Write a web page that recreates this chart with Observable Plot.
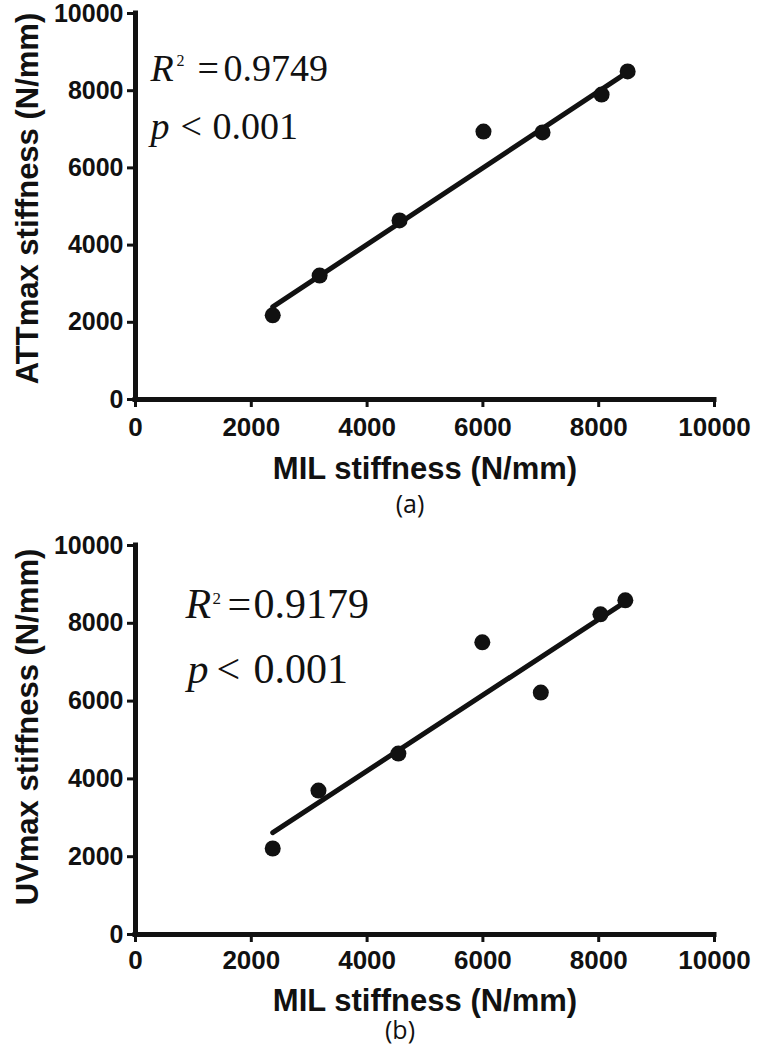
<!DOCTYPE html>
<html><head><meta charset="utf-8">
<script src="https://cdn.jsdelivr.net/npm/d3@7"></script>
<script src="https://cdn.jsdelivr.net/npm/@observablehq/plot@0.6"></script>
<style>body{margin:0;background:#fff}#chart svg{display:block}</style>
</head><body><div id="chart"></div>
<script>
// Panel (a)
const milA = [2370, 3180, 4560, 6010, 7030, 8050, 8500];
const attA = [2180, 3210, 4640, 6940, 6920, 7900, 8500];
const fitAX = [2370, 8500];
const fitAY = [2400, 8480];
// Panel (b)
const milB = [2370, 3160, 4540, 5990, 7000, 8030, 8460];
const uvB  = [2210, 3700, 4650, 7510, 6220, 8230, 8590];
const fitBX = [2370, 8460];
const fitBY = [2620, 8550];
// Ticks & labels
const xTicks = [0, 2000, 4000, 6000, 8000, 10000];
const yTicks = [0, 2000, 4000, 6000, 8000, 10000];
const xLabel = "MIL stiffness (N/mm)";
const yLabelA = "ATTmax stiffness (N/mm)";
const yLabelB = "UVmax stiffness (N/mm)";
const statsA = {r2: "0.9749", p: "0.001", caption: "(a)"};
const statsB = {r2: "0.9179", p: "0.001", caption: "(b)"};

const SANS = "'Liberation Sans', Arial, sans-serif";
const SERIF = "'Liberation Serif', 'Times New Roman', serif";
const INK = "#111";

function panel({xs, ys, fx, fy, yLabel, stats, height, marginTop, marginBottom, tickPadX, lay}) {
  const data = xs.map((x, i) => ({x, y: ys[i]}));
  const fit = fx.map((x, i) => ({x, y: fy[i]}));
  const t = (s, o) => Plot.text([s], {text: d => d, frameAnchor: "top-left", textAnchor: "start", lineAnchor: "bottom", fill: INK, fontFamily: SERIF, ...o});
  return Plot.plot({
    width: 767, height, marginLeft: 135, marginRight: 53, marginTop, marginBottom,
    x: {domain: [0, 10000]}, y: {domain: [0, 10000]},
    style: {background: "#fff", color: INK},
    marks: [
      Plot.axisX({ticks: xTicks, tickSize: 8, tickPadding: tickPadX, tickFormat: d => String(d), label: null,
        fontSize: 26, fontWeight: "bold", fontFamily: SANS, strokeWidth: 3, stroke: INK, fill: INK}),
      Plot.axisY({ticks: yTicks, tickSize: 8, tickPadding: 4, tickFormat: d => String(d), label: null,
        fontSize: 25, fontWeight: "bold", fontFamily: SANS, strokeWidth: 3, stroke: INK, fill: INK}),
      Plot.ruleX([0], {stroke: INK, strokeWidth: 5, strokeLinecap: "square"}),
      Plot.ruleY([0], {stroke: INK, strokeWidth: 5, strokeLinecap: "square"}),
      Plot.line(fit, {x: "x", y: "y", stroke: INK, strokeWidth: 5}),
      Plot.dot(data, {x: "x", y: "y", r: 8, fill: INK, stroke: null}),
      // axis titles
      Plot.text([xLabel], {text: d => d, frameAnchor: "bottom", textAnchor: "middle", lineAnchor: "bottom", dy: lay.xLabDy,
        fontSize: 31, fontWeight: "bold", fontFamily: SANS, fill: INK}),
      Plot.text([yLabel], {text: d => d, frameAnchor: "left", textAnchor: "middle", rotate: -90, lineAnchor: "bottom", dx: -98, dy: lay.yLabDy,
        fontSize: 31, fontWeight: "bold", fontFamily: SANS, fill: INK}),
      // caption
      Plot.text([stats.caption], {text: d => d, frameAnchor: "bottom", textAnchor: "middle", lineAnchor: "bottom", dx: lay.capDx, dy: lay.capDy,
        fontSize: 25, fontFamily: "'Open Sans', sans-serif", fill: INK}),
      // statistics annotation
      t("R", {dx: lay.rDx, dy: lay.rDy, fontSize: lay.fs, fontStyle: "italic"}),
      t("2", {dx: lay.supDx, dy: lay.supDy, fontSize: lay.fsSup}),
      t("=", {dx: lay.eqDx, dy: lay.rDy, fontSize: lay.fs}),
      t(stats.r2, {dx: lay.numDx, dy: lay.rDy, fontSize: lay.fs}),
      t("p", {dx: lay.pDx, dy: lay.pDy, fontSize: lay.fs, fontStyle: "italic"}),
      t("<", {dx: lay.ltDx, dy: lay.pDy, fontSize: lay.fs}),
      t(stats.p, {dx: lay.pNumDx, dy: lay.pDy, fontSize: lay.fs})
    ]
  });
}

const chart = document.getElementById("chart");
chart.append(panel({
  xs: milA, ys: attA, fx: fitAX, fy: fitAY, yLabel: yLabelA, stats: statsA,
  height: 520, marginTop: 13, marginBottom: 121, tickPadX: 10,
  lay: {xLabDy: 79, yLabDy: -8, capDx: -15, capDy: 113,
        fs: 38, fsSup: 16, rDx: 15, rDy: 67, supDx: 41, supDy: 52, eqDx: 62, numDx: 88,
        pDx: 15, pDy: 125, ltDx: 45, pNumDx: 77}
}));
chart.append(panel({
  xs: milB, ys: uvB, fx: fitBX, fy: fitBY, yLabel: yLabelB, stats: statsB,
  height: 527, marginTop: 25, marginBottom: 113, tickPadX: 8,
  lay: {xLabDy: 76, yLabDy: -13, capDx: -25, capDy: 104,
        fs: 42, fsSup: 17, rDx: 50, rDy: 72, supDx: 77, supDy: 58, eqDx: 92, numDx: 118,
        pDx: 52, pDy: 137, ltDx: 81, pNumDx: 118}
}));
</script>
</body></html>
